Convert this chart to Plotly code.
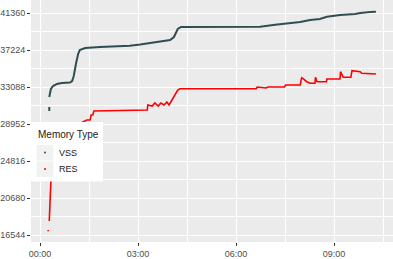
import plotly.graph_objects as go

DAY = "2020-01-01 "

vss_time = ["00:17", "00:17", None, "00:17", "00:20", "00:24", "00:31", "00:40", "00:55", "00:59", "01:02",
            "01:06", "01:10", "01:13", "01:23", "01:50", "02:18", "02:45", "03:04", "03:22",
            "03:40", "03:59", "04:06", "04:10", "04:13", "04:19", "05:31", "06:44", "07:12",
            "07:45", "07:58", "08:16", "08:34", "08:47", "09:11", "09:39", "09:48", "10:06", "10:17"]
vss_val = [30406, 30850, None, 31970, 32865, 33200, 33424, 33535, 33591, 33759, 34318,
           35659, 36777, 37224, 37448, 37559, 37615, 37705, 37839, 38007,
           38152, 38342, 38677, 39124, 39572, 39795, 39795, 39829, 40052,
           40209, 40354, 40578, 40689, 40946, 41136, 41248, 41360, 41472, 41505]

res_time = ["00:15", "00:15", None, "00:17", "00:18", "00:19", "00:20", "00:24", "00:37", "01:04", "01:26",
            "01:32", "01:34", "01:37", "01:39", "03:17", "03:18", "03:26", "03:31", "03:37",
            "03:42", "03:48", "03:53", "03:57", "04:02", "04:08", "04:13", "04:17", "06:37",
            "06:39", "06:55", "06:59", "07:29", "07:31", "07:58", "08:00", "08:01", "08:10",
            "08:16", "08:25", "08:26", "08:29", "08:46", "08:47", "09:11", "09:12", "09:17",
            "09:31", "09:33", "09:48", "09:51", "10:17"]
res_val = [16950, 17100, None, 18110, 19898, 21575, 22503, 23811, 26605, 28729, 29400,
           29400, 29958, 29958, 30406, 30518, 31076, 30964, 31300, 30964,
           31300, 31076, 31411, 31076, 31635, 32194, 32753, 32898, 32898,
           33088, 32977, 33088, 33088, 33312, 33312, 33982, 34128, 33681,
           33502, 33502, 34173, 33681, 33681, 33982, 33982, 34799, 34173,
           34173, 34910, 34799, 34620, 34542]

y_ticks = [16544, 20680, 24816, 28952, 33088, 37224, 41360]
x_ticks = ["00:00", "03:00", "06:00", "09:00"]
series_names = ["VSS", "RES"]
legend_title = "Memory Type"

VSS_COLOR = "#2F4F4F"
RES_COLOR = "#FF0000"
colors = [VSS_COLOR, RES_COLOR]

W, H = 393, 259
ML, MR, MT, MB = 31, 0, 0, 17
PW, PH = W - ML - MR, H - MT - MB


def px(x):
    return (x - ML) / PW


def py(y):
    return 1 - (y - MT) / PH


def ts(t):
    return None if t is None else DAY + t


fig = go.Figure()
fig.add_trace(go.Scatter(x=[ts(t) for t in vss_time], y=vss_val, mode="lines",
                         line=dict(color=VSS_COLOR, width=2), showlegend=False,
                         connectgaps=False))
fig.add_trace(go.Scatter(x=[ts(t) for t in res_time], y=res_val, mode="lines",
                         line=dict(color=RES_COLOR, width=1.6), showlegend=False,
                         connectgaps=False))

tickfont = dict(family="Liberation Sans, Arial, sans-serif", size=9, color="#4D4D4D")

# custom ggplot-style legend
shapes = [dict(type="rect", xref="paper", yref="paper", x0=px(31), x1=px(103),
               y0=py(181.5), y1=py(122), fillcolor="white", line=dict(width=0), layer="above")]
annotations = [dict(text=legend_title, xref="paper", yref="paper", x=px(36), y=py(134.5),
                    xanchor="left", yanchor="middle", showarrow=False,
                    font=dict(family="Liberation Sans, Arial, sans-serif", size=10, color="#1A1A1A"))]
key_tops = [145, 161.5]
for name, col, top in zip(series_names, colors, key_tops):
    cy = top + 7.5
    shapes.append(dict(type="rect", xref="paper", yref="paper", x0=px(36.5), x1=px(53.5),
                       y0=py(top + 15.5), y1=py(top), fillcolor="#F2F2F2",
                       line=dict(width=0), layer="above"))
    shapes.append(dict(type="circle", xref="paper", yref="paper",
                       xsizemode="pixel", ysizemode="pixel",
                       xanchor=px(45), yanchor=py(cy), x0=-1, x1=1, y0=-1, y1=1,
                       fillcolor=col, line=dict(width=0), layer="above"))
    annotations.append(dict(text=name, xref="paper", yref="paper", x=px(56.5), y=py(cy),
                            xanchor="left", yanchor="middle", showarrow=False,
                            font=dict(family="Liberation Sans, Arial, sans-serif", size=9,
                                      color="#1A1A1A")))

fig.update_layout(
    width=W, height=H,
    margin=dict(l=ML, r=MR, t=MT, b=MB),
    paper_bgcolor="white",
    plot_bgcolor="#EBEBEB",
    font=dict(family="Liberation Sans, Arial, sans-serif"),
    showlegend=False,
    shapes=shapes,
    annotations=annotations,
    xaxis=dict(
        type="date",
        range=["2019-12-31 23:43:28", DAY + "10:48:22"],
        tickvals=[DAY + t for t in x_ticks],
        ticktext=x_ticks,
        ticks="outside", ticklen=3, tickcolor="#333333", tickwidth=1,
        tickfont=tickfont,
        showgrid=True, gridcolor="white", gridwidth=1,
        minor=dict(tickvals=[DAY + "01:30", DAY + "04:30", DAY + "07:30", DAY + "10:30"],
                   showgrid=True, gridcolor="white", gridwidth=0.5, ticks=""),
        zeroline=False, showline=False,
    ),
    yaxis=dict(
        range=[15762, 42813],
        tickvals=y_ticks,
        ticktext=[str(v) for v in y_ticks],
        ticks="outside", ticklen=3, tickcolor="#333333", tickwidth=1,
        tickfont=tickfont,
        showgrid=True, gridcolor="white", gridwidth=1,
        minor=dict(tickvals=[v + 2068 for v in y_ticks],
                   showgrid=True, gridcolor="white", gridwidth=0.5, ticks=""),
        zeroline=False, showline=False,
    ),
)

fig.write_html("out.html")
